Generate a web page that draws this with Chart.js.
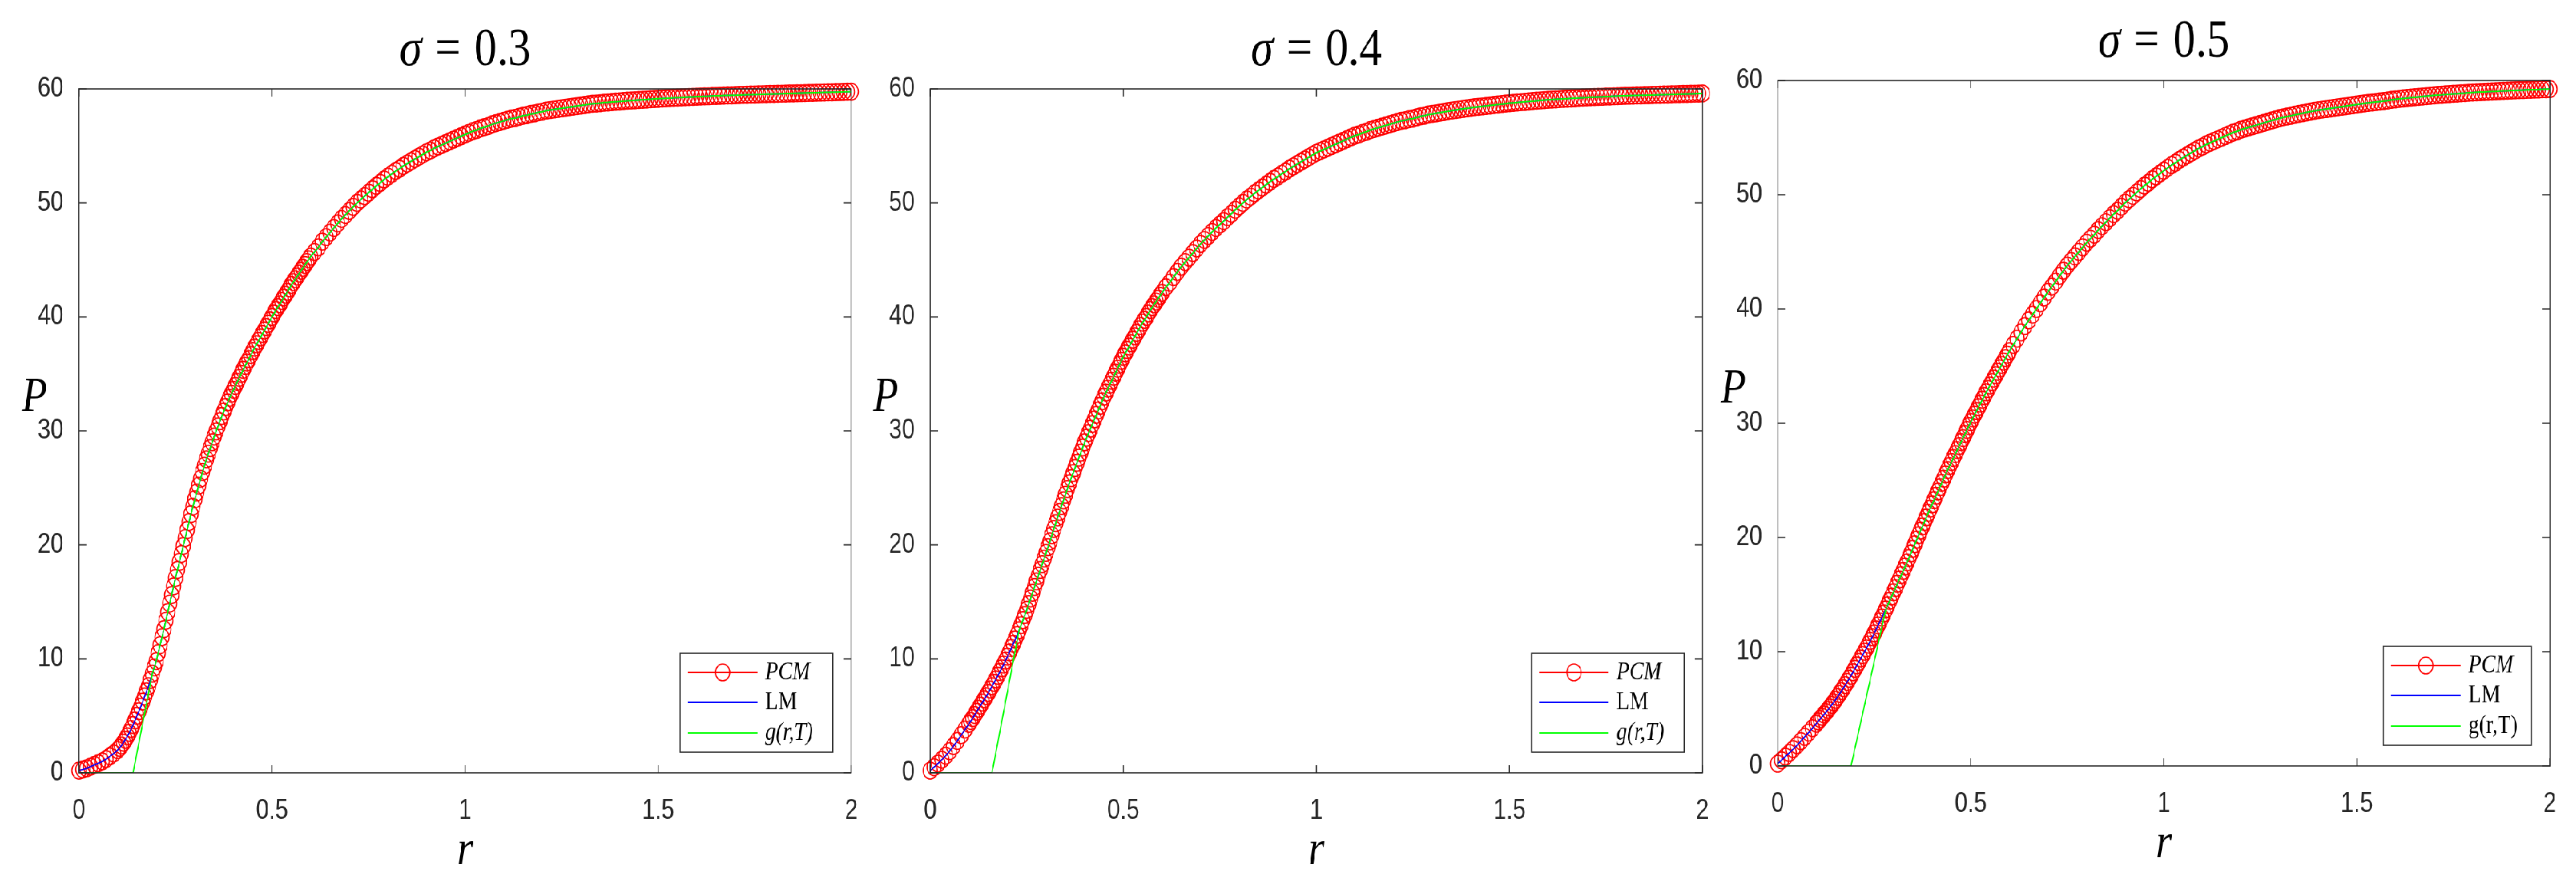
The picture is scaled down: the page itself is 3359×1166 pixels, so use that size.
<!DOCTYPE html>
<html>
<head>
<meta charset="utf-8">
<title>PCM vs LM, sigma = 0.3 / 0.4 / 0.5</title>
<script src="https://cdn.jsdelivr.net/npm/chart.js@4.4.1/dist/chart.umd.min.js"></script>
<style>
  html, body { margin: 0; padding: 0; background: #fff; overflow: hidden; }
  /* the original figure is squeezed horizontally, so draw wide and scale down */
  #stage { position: absolute; left: 0; top: 0; width: 3999px; height: 1166px;
           transform: scaleX(0.84); transform-origin: 0 0; }
  #stage canvas { position: absolute; top: 0; }
</style>
</head>
<body>
<div id="stage">
  <canvas id="c1" width="1400" height="1166"></canvas>
  <canvas id="c2" width="1400" height="1166"></canvas>
  <canvas id="c3" width="1363" height="1166"></canvas>
</div>
<script>
// r grid (same for all three panels)
const rGrid = [
  0.00,0.01,0.02,0.03,0.04,0.05,0.06,0.07,0.08,0.09,
  0.10,0.11,0.12,0.13,0.14,0.15,0.16,0.17,0.18,0.19,
  0.20,0.21,0.22,0.23,0.24,0.25,0.26,0.27,0.28,0.29,
  0.30,0.31,0.32,0.33,0.34,0.35,0.36,0.37,0.38,0.39,
  0.40,0.41,0.42,0.43,0.44,0.45,0.46,0.47,0.48,0.49,
  0.50,0.51,0.52,0.53,0.54,0.55,0.56,0.57,0.58,0.59,
  0.60,0.61,0.62,0.63,0.64,0.65,0.66,0.67,0.68,0.69,
  0.70,0.71,0.72,0.73,0.74,0.75,0.76,0.77,0.78,0.79,
  0.80,0.81,0.82,0.83,0.84,0.85,0.86,0.87,0.88,0.89,
  0.90,0.91,0.92,0.93,0.94,0.95,0.96,0.97,0.98,0.99,
  1.00,1.01,1.02,1.03,1.04,1.05,1.06,1.07,1.08,1.09,
  1.10,1.11,1.12,1.13,1.14,1.15,1.16,1.17,1.18,1.19,
  1.20,1.21,1.22,1.23,1.24,1.25,1.26,1.27,1.28,1.29,
  1.30,1.31,1.32,1.33,1.34,1.35,1.36,1.37,1.38,1.39,
  1.40,1.41,1.42,1.43,1.44,1.45,1.46,1.47,1.48,1.49,
  1.50,1.51,1.52,1.53,1.54,1.55,1.56,1.57,1.58,1.59,
  1.60,1.61,1.62,1.63,1.64,1.65,1.66,1.67,1.68,1.69,
  1.70,1.71,1.72,1.73,1.74,1.75,1.76,1.77,1.78,1.79,
  1.80,1.81,1.82,1.83,1.84,1.85,1.86,1.87,1.88,1.89,
  1.90,1.91,1.92,1.93,1.94,1.95,1.96,1.97,1.98,1.99,
  2.00
];
// extra PCM nodes where the curve is steep (markers are denser there)
const rFine = [
  0.105,0.115,0.125,0.135,0.145,0.155,0.165,0.175,0.185,0.195,
  0.205,0.215,0.225,0.235,0.245,0.255,0.265,0.275,0.285,0.295,
  0.305,0.315,0.325,0.335,0.345,0.355,0.365,0.375,0.385,0.395,
  0.405,0.415,0.425,0.435,0.445,0.455,0.465,0.475,0.485,0.495,
  0.505,0.515,0.525,0.535,0.545,0.555,0.565,0.575,0.585,0.595
];

// P(r)
const pcmSigma03 = [
  0.20,0.30,0.40,0.55,0.70,0.85,1.00,1.20,1.45,1.70,
  2.00,2.40,2.90,3.50,4.20,5.00,5.80,6.70,7.60,8.70,
  9.80,11.2,12.6,14.1,15.6,17.1,18.5,19.9,21.3,22.7,
  24.0,25.2,26.4,27.5,28.5,29.5,30.4,31.3,32.1,32.9,
  33.6,34.3,35.0,35.7,36.3,37.0,37.6,38.2,38.8,39.4,
  40.0,40.6,41.1,41.7,42.2,42.8,43.3,43.8,44.3,44.8,
  45.3,45.7,46.1,46.6,47.0,47.4,47.8,48.2,48.6,48.95,
  49.3,49.65,50.0,50.3,50.6,50.9,51.2,51.5,51.75,52.05,
  52.3,52.55,52.8,53.0,53.25,53.45,53.65,53.85,54.05,54.25,
  54.45,54.6,54.8,54.95,55.1,55.25,55.4,55.55,55.7,55.85,
  56.0,56.15,56.3,56.4,56.55,56.65,56.75,56.9,57.0,57.1,
  57.2,57.3,57.4,57.45,57.55,57.65,57.7,57.8,57.85,57.95,
  58.0,58.1,58.15,58.2,58.25,58.3,58.35,58.4,58.45,58.5,
  58.55,58.6,58.65,58.7,58.72,58.75,58.8,58.82,58.85,58.88,
  58.9,58.93,58.96,58.98,59.0,59.03,59.05,59.07,59.1,59.12,
  59.14,59.16,59.18,59.2,59.22,59.24,59.25,59.27,59.29,59.3,
  59.32,59.33,59.35,59.36,59.38,59.39,59.4,59.42,59.43,59.44,
  59.45,59.47,59.48,59.49,59.5,59.51,59.52,59.53,59.54,59.55,
  59.56,59.57,59.58,59.59,59.6,59.61,59.62,59.63,59.64,59.65,
  59.66,59.67,59.68,59.69,59.7,59.71,59.72,59.73,59.74,59.75,
  59.76
];
const pcmFine03 = [
  2.2,2.65,3.2,3.85,4.6,5.4,6.25,7.15,8.15,9.25,
  10.5,11.9,13.35,14.85,16.35,17.8,19.2,20.6,22.0,23.35,
  24.6,25.8,26.95,28.0,29.0,29.95,30.85,31.7,32.5,33.25,
  33.95,34.65,35.35,36.0,36.65,37.3,37.9,38.5,39.1,39.7,
  40.3,40.85,41.4,41.95,42.5,43.05,43.55,44.05,44.55,45.05
];
const pcmSigma04 = [
  0.20,0.50,0.82,1.15,1.50,1.90,2.35,2.80,3.30,3.80,
  4.30,4.80,5.35,5.90,6.45,7.00,7.60,8.20,8.85,9.50,
  10.2,10.95,11.7,12.5,13.4,14.3,15.3,16.3,17.3,18.3,
  19.3,20.3,21.4,22.4,23.4,24.4,25.4,26.3,27.2,28.1,
  29.0,29.8,30.6,31.4,32.2,33.0,33.7,34.4,35.1,35.8,
  36.5,37.1,37.7,38.3,38.9,39.5,40.0,40.6,41.1,41.6,
  42.1,42.6,43.0,43.5,43.95,44.4,44.8,45.2,45.6,46.0,
  46.4,46.75,47.1,47.45,47.8,48.1,48.4,48.75,49.05,49.4,
  49.7,50.0,50.3,50.55,50.85,51.1,51.35,51.6,51.85,52.1,
  52.3,52.55,52.75,53.0,53.2,53.4,53.6,53.8,54.0,54.2,
  54.4,54.55,54.7,54.85,55.0,55.15,55.3,55.45,55.6,55.75,
  55.9,56.0,56.15,56.25,56.4,56.5,56.6,56.7,56.8,56.9,
  57.0,57.1,57.2,57.25,57.35,57.4,57.5,57.6,57.65,57.75,
  57.8,57.86,57.92,57.98,58.04,58.1,58.15,58.2,58.25,58.3,
  58.35,58.39,58.43,58.47,58.51,58.55,58.59,58.63,58.67,58.71,
  58.75,58.78,58.81,58.84,58.87,58.9,58.93,58.96,58.99,59.02,
  59.05,59.07,59.09,59.11,59.13,59.15,59.17,59.19,59.21,59.23,
  59.25,59.27,59.28,59.3,59.31,59.33,59.34,59.36,59.37,59.39,
  59.4,59.41,59.42,59.43,59.44,59.45,59.46,59.47,59.48,59.49,
  59.5,59.51,59.52,59.53,59.54,59.55,59.56,59.57,59.58,59.59,
  59.6
];
const pcmFine04 = [
  4.55,5.07,5.62,6.17,6.72,7.3,7.9,8.52,9.17,9.85,
  10.57,11.32,12.1,12.95,13.85,14.8,15.8,16.8,17.8,18.8,
  19.8,20.85,21.9,22.9,23.9,24.9,25.85,26.75,27.65,28.55,
  29.4,30.2,31.0,31.8,32.6,33.35,34.05,34.75,35.45,36.15,
  36.8,37.4,38.0,38.6,39.2,39.75,40.3,40.85,41.35,41.85
];
const pcmSigma05 = [
  0.20,0.50,0.82,1.14,1.47,1.80,2.17,2.55,2.92,3.30,
  3.70,4.10,4.50,4.90,5.35,5.80,6.30,6.80,7.35,7.90,
  8.50,9.10,9.70,10.3,10.95,11.6,12.3,13.0,13.7,14.45,
  15.2,15.95,16.7,17.45,18.2,19.0,19.8,20.6,21.35,22.15,
  22.9,23.65,24.4,25.15,25.9,26.6,27.3,28.0,28.7,29.4,
  30.1,30.75,31.4,32.05,32.7,33.3,33.9,34.5,35.1,35.7,
  36.3,36.85,37.4,37.95,38.5,39.0,39.5,40.0,40.5,41.0,
  41.5,41.95,42.4,42.9,43.35,43.8,44.2,44.6,45.0,45.4,
  45.8,46.15,46.5,46.9,47.25,47.6,47.95,48.3,48.6,48.95,
  49.3,49.6,49.9,50.2,50.5,50.8,51.05,51.35,51.6,51.85,
  52.1,52.35,52.6,52.8,53.05,53.25,53.45,53.65,53.85,54.05,
  54.2,54.4,54.55,54.7,54.85,55.0,55.15,55.3,55.45,55.55,
  55.7,55.8,55.9,56.0,56.1,56.2,56.3,56.4,56.5,56.6,
  56.7,56.78,56.85,56.92,57.0,57.07,57.14,57.21,57.28,57.34,
  57.4,57.45,57.5,57.55,57.6,57.65,57.7,57.75,57.8,57.85,
  57.9,57.95,58.0,58.04,58.08,58.12,58.16,58.2,58.24,58.31,
  58.35,58.39,58.43,58.46,58.5,58.53,58.56,58.6,58.63,58.66,
  58.7,58.73,58.75,58.78,58.8,58.83,58.85,58.88,58.9,58.93,
  58.95,58.97,58.99,59.0,59.02,59.04,59.05,59.07,59.09,59.1,
  59.12,59.13,59.15,59.16,59.18,59.19,59.2,59.21,59.23,59.24,
  59.25
];
const pcmFine05 = [
  3.9,4.3,4.7,5.12,5.57,6.05,6.55,7.07,7.62,8.2,
  8.8,9.4,10.0,10.62,11.27,11.95,12.65,13.35,14.07,14.82,
  15.57,16.32,17.07,17.82,18.6,19.4,20.2,20.97,21.75,22.52,
  23.27,24.02,24.77,25.52,26.25,26.95,27.65,28.35,29.05,29.75,
  30.42,31.07,31.72,32.37,33.0,33.6,34.2,34.8,35.4,36.0
];

// LM lies on top of PCM at this scale
const lmSigma03 = pcmSigma03;
const lmSigma04 = pcmSigma04;
const lmSigma05 = pcmSigma05;

// g(r,T): zero up to the kink, straight up, then on the curve from the join point
const gKinkR = [0.14, 0.16, 0.19];
const gJoinR = [0.19, 0.23, 0.28];

const sigmaLabels = ['0.3', '0.4', '0.5'];
const xTicks = { min: 0, max: 2, step: 0.5 };
const yTicks = { min: 0, max: 60, step: 10 };

const SQUEEZE = 0.84;
const AXIS_COLOR = '#262626';

const panels = [
  { id: 'c1', pcm: pcmSigma03, fine: pcmFine03, lm: lmSigma03, gItalic: true,  canvasLeft: 0,
    left: 103,  right: 1110, top: 116, bottom: 1008, legendWidth: 237 },
  { id: 'c2', pcm: pcmSigma04, fine: pcmFine04, lm: lmSigma04, gItalic: true,  canvasLeft: 1320,
    left: 1213, right: 2220, top: 116, bottom: 1008, legendWidth: 237 },
  { id: 'c3', pcm: pcmSigma05, fine: pcmFine05, lm: lmSigma05, gItalic: false, canvasLeft: 2636,
    left: 2318, right: 3325, top: 105, bottom: 999,  legendWidth: 230 }
];

const matlabAxes = {
  id: 'matlabAxes',
  afterDatasetsDraw(chart, args, o) {
    const { ctx, chartArea: a, scales } = chart;
    ctx.save();
    ctx.strokeStyle = AXIS_COLOR;
    ctx.lineWidth = 1.6;
    ctx.beginPath();
    scales.x.ticks.forEach(t => {
      const px = scales.x.getPixelForValue(t.value);
      ctx.moveTo(px, a.bottom); ctx.lineTo(px, a.bottom - 10);
      ctx.moveTo(px, a.top); ctx.lineTo(px, a.top + 10);
    });
    scales.y.ticks.forEach(t => {
      const py = scales.y.getPixelForValue(t.value);
      ctx.moveTo(a.left, py); ctx.lineTo(a.left + 12, py);
      ctx.moveTo(a.right, py); ctx.lineTo(a.right - 12, py);
    });
    ctx.stroke();
    ctx.strokeRect(a.left, a.top, a.right - a.left, a.bottom - a.top);
    ctx.restore();
  },
  afterDraw(chart, args, o) {
    const { ctx, chartArea: a } = chart;
    const midX = (a.left + a.right) / 2;
    ctx.save();
    ctx.fillStyle = '#000';
    ctx.textBaseline = 'alphabetic';

    // title: sigma = value
    const ts = 70;
    const fSym = `italic ${ts}px "Liberation Serif"`;
    const fTxt = `${ts}px "Liberation Serif"`;
    ctx.font = fSym; const wS = ctx.measureText('σ').width;
    ctx.font = fTxt;
    const wEq = ctx.measureText('=').width;
    const wN = ctx.measureText(o.sigma).width;
    const gap = 0.3 * ts;
    let x = midX - (wS + wEq + wN + 2 * gap) / 2;
    ctx.textAlign = 'left';
    ctx.font = fSym; ctx.fillText('σ', x, a.top - 31); x += wS + gap;
    ctx.font = fTxt; ctx.fillText('=', x, a.top - 31); x += wEq + gap;
    ctx.fillText(o.sigma, x, a.top - 31);

    // axis labels (P stays horizontal, as in the original)
    ctx.font = 'italic 64px "Liberation Serif"';
    ctx.textAlign = 'center';
    ctx.fillText('P', a.left - 69, a.top + 420);
    ctx.fillText('r', midX, a.bottom + 119);

    // legend box, bottom right inside the axes
    const bw = o.legendWidth, bh = 129;
    const bx = a.right - 28.6 - bw, by = a.bottom - 27 - bh;
    ctx.fillStyle = '#fff';
    ctx.fillRect(bx, by, bw, bh);
    ctx.strokeStyle = AXIS_COLOR;
    ctx.lineWidth = 1.6;
    ctx.strokeRect(bx, by, bw, bh);
    const rowY = [25, 64, 104];
    chart.data.datasets.forEach((ds, i) => {
      const yy = by + rowY[i];
      ctx.strokeStyle = ds.borderColor;
      ctx.lineWidth = 1.8;
      ctx.beginPath(); ctx.moveTo(bx + 12, yy); ctx.lineTo(bx + 120, yy); ctx.stroke();
      if (ds.pointRadius > 0) {
        ctx.lineWidth = ds.pointBorderWidth;
        ctx.beginPath(); ctx.arc(bx + 66, yy, ds.pointRadius, 0, Math.PI * 2); ctx.stroke();
      }
      const italic = i === 0 || (i === 2 && o.gItalic);
      ctx.fillStyle = '#000';
      ctx.font = `${italic ? 'italic ' : ''}33px "Liberation Serif"`;
      ctx.textAlign = 'left';
      ctx.textBaseline = 'middle';
      ctx.fillText(ds.label, bx + 132, yy);
    });
    ctx.restore();
  }
};

function makeChart(p, idx) {
  const canvas = document.getElementById(p.id);
  canvas.style.left = p.canvasLeft + 'px';
  const W = canvas.width, H = canvas.height;
  const plotL = p.left / SQUEEZE - p.canvasLeft;
  const plotR = p.right / SQUEEZE - p.canvasLeft;
  const yAxisW = 100;

  const pcmPts = rGrid.map((r, i) => ({ x: r, y: p.pcm[i] }))
    .concat(rFine.map((r, i) => ({ x: r, y: p.fine[i] })))
    .sort((u, v) => u.x - v.x);
  const lmPts = rGrid.map((r, i) => ({ x: r, y: p.lm[i] }));
  const gPts = [{ x: 0, y: 0 }, { x: gKinkR[idx], y: 0 }]
    .concat(pcmPts.filter(pt => pt.x >= gJoinR[idx] - 1e-9));

  const tickFont = { family: '"Liberation Sans", Arial, sans-serif', size: 36 };

  return new Chart(canvas, {
    type: 'line',
    data: {
      datasets: [
        { label: 'PCM', data: pcmPts, borderColor: '#ff0000', borderWidth: 1.5,
          pointRadius: 11, pointBorderWidth: 1.7, pointBorderColor: '#ff0000',
          pointBackgroundColor: 'rgba(0,0,0,0)', order: 3, clip: false },
        { label: 'LM', data: lmPts, borderColor: '#0000ff', borderWidth: 1.8,
          pointRadius: 0, order: 2 },
        { label: 'g(r,T)', data: gPts, borderColor: '#00ff00', borderWidth: 2,
          pointRadius: 0, order: 1 }
      ]
    },
    options: {
      responsive: false,
      animation: false,
      events: [],
      layout: { padding: { left: plotL - yAxisW, right: W - plotR, top: p.top, bottom: 0 } },
      plugins: {
        legend: { display: false },
        tooltip: { enabled: false },
        matlabAxes: { sigma: sigmaLabels[idx], gItalic: p.gItalic, legendWidth: p.legendWidth }
      },
      scales: {
        x: {
          type: 'linear', min: xTicks.min, max: xTicks.max,
          afterFit: s => { s.height = H - p.bottom; },
          grid: { display: false },
          border: { display: false },
          ticks: { stepSize: xTicks.step, padding: 20, color: AXIS_COLOR, font: tickFont,
                   maxRotation: 0, callback: v => String(v) }
        },
        y: {
          type: 'linear', min: yTicks.min, max: yTicks.max,
          afterFit: s => { s.width = yAxisW; },
          grid: { display: false },
          border: { display: false },
          ticks: { stepSize: yTicks.step, padding: 16, color: AXIS_COLOR, font: tickFont }
        }
      }
    },
    plugins: [matlabAxes]
  });
}

panels.forEach((p, i) => makeChart(p, i));
</script>
</body>
</html>
